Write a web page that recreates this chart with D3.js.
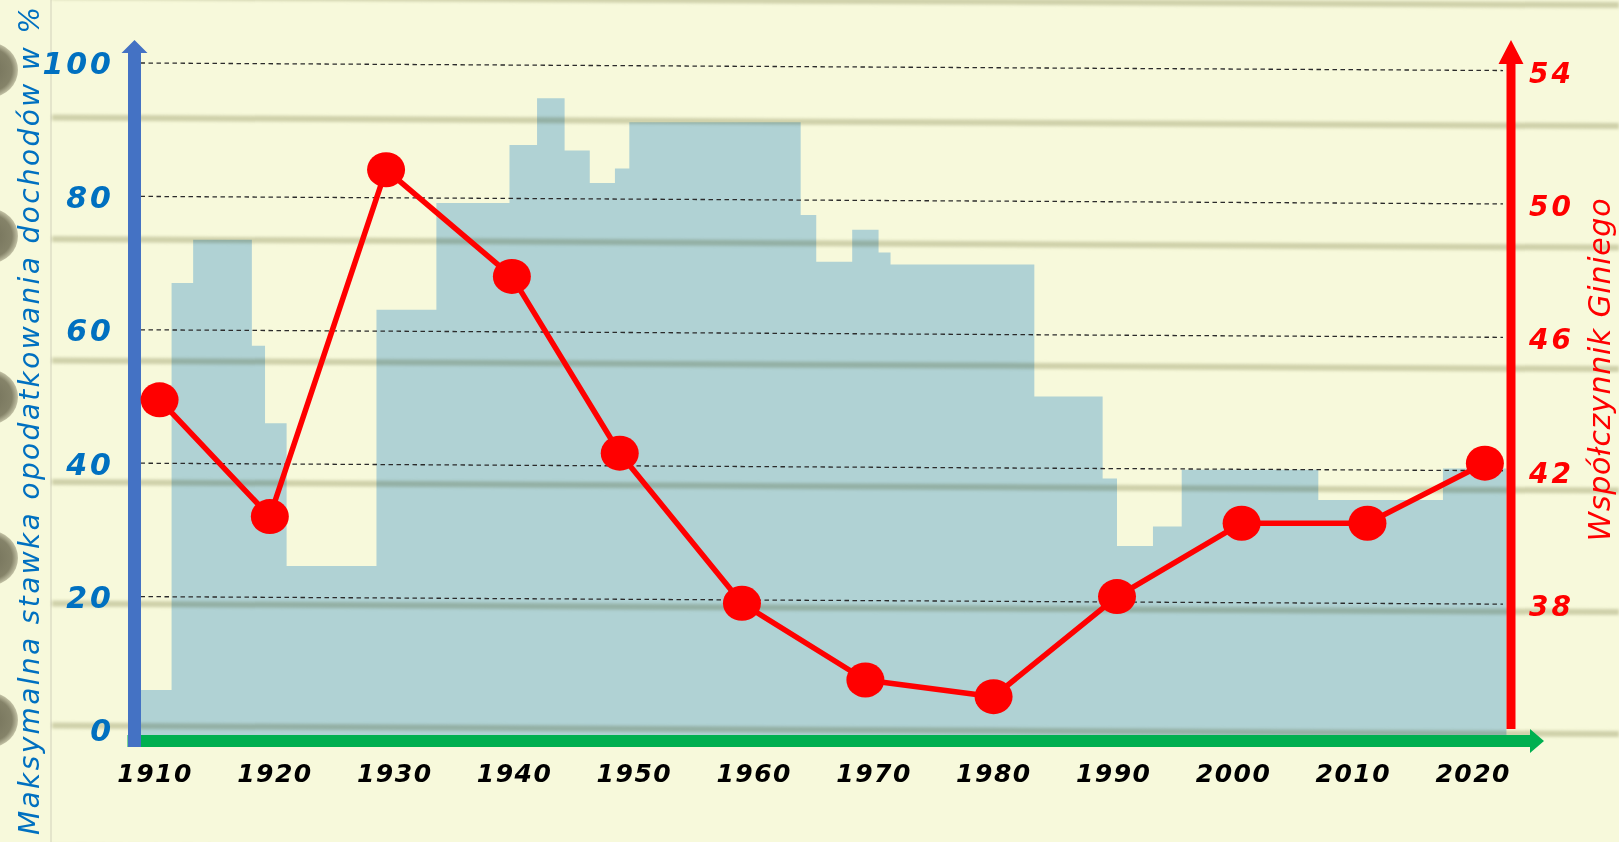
<!DOCTYPE html>
<html>
<head>
<meta charset="utf-8">
<script src="https://cdn.jsdelivr.net/npm/d3@7"></script>
<style>
  html, body { margin: 0; padding: 0; background: #f7f9db; overflow: hidden; }
  svg { display: block; }
  text { font-family: "DejaVu Sans", sans-serif; font-style: italic; }
</style>
</head>
<body>
<svg id="chart" width="1619" height="842"></svg>
<script>
// tick labels
const decadeTicks = [1910, 1920, 1930, 1940, 1950, 1960, 1970, 1980, 1990, 2000, 2010, 2020];
const rateTicks = [0, 20, 40, 60, 80, 100];
const giniTicks = [38, 42, 46, 50, 54];

// top income tax rate (%), each value holds from its year until the next one
const rateYears = [1908.4, 1911.5, 1913.3, 1918.2, 1919.3, 1921.1, 1928.6, 1933.6, 1939.7, 1942.0,
  1944.3, 1946.4, 1948.5, 1949.7, 1964.0, 1965.3, 1968.3, 1970.5, 1971.5, 1983.5,
  1989.2, 1990.4, 1993.4, 1995.8, 2007.2, 2017.6];
const rateValues = [6, 67, 73.5, 57.6, 46, 24.6, 63, 79, 87.7, 94.7,
  86.9, 82, 84.2, 91.1, 77.2, 70.2, 75, 71.6, 69.8, 50,
  37.7, 27.6, 30.5, 39, 34.5, 39.2];
const rateEnd = 2022.9;

// Gini coefficient
const giniYears = [1910.5, 1919.7, 1929.4, 1939.9, 1948.9, 1959.1, 1969.4, 1980.1, 1990.4, 2000.8, 2011.3, 2021.1];
const giniValues = [43.9, 40.4, 50.8, 47.6, 42.3, 37.8, 35.5, 35.0, 38.0, 40.2, 40.2, 42.0];

// notebook paper decoration
const ruleRows = [-3.5, 117.5, 239, 360.5, 482, 603.5, 725.5, 847];
const holeRows = [70, 236, 397, 558, 720];

const width = 1619;
const height = 842;

const x = d3.scaleLinear().domain([1910, 2020]).range([153.6, 1471.7]);
const y = d3.scaleLinear().domain([0, 100]).range([730, 63]);
const yGini = d3.scaleLinear().domain([34, 54]).range([730, 63]);

const leftAxisX = 134.5;
const rightAxisX = 1511;
const baseY = 741;
const tilt = 7.5 / 1363; // grid and paper lines slope slightly down to the right

const svg = d3.select('#chart');
const defs = svg.append('defs');

defs.append('filter').attr('id', 'soft')
  .attr('x', '-5%').attr('y', '-200%').attr('width', '110%').attr('height', '500%')
  .append('feGaussianBlur').attr('stdDeviation', 1.5);

const holeGrad = defs.append('radialGradient').attr('id', 'hole');
holeGrad.append('stop').attr('offset', '0%').attr('stop-color', '#74725a');
holeGrad.append('stop').attr('offset', '78%').attr('stop-color', '#858369');
holeGrad.append('stop').attr('offset', '100%').attr('stop-color', '#c4c3a6');

// paper
svg.append('rect').attr('width', width).attr('height', height).attr('fill', '#f7f9db');

svg.append('line')
  .attr('x1', 51).attr('x2', 51).attr('y1', 0).attr('y2', height)
  .attr('stroke', '#e4e5cb').attr('stroke-width', 2);

svg.selectAll('ellipse.hole')
  .data(holeRows)
  .join('ellipse')
  .attr('class', 'hole')
  .attr('cx', -9)
  .attr('cy', d => d)
  .attr('rx', 27)
  .attr('ry', 27)
  .attr('fill', 'url(#hole)');

// tax rate area
const area = d3.area()
  .curve(d3.curveStepAfter)
  .x(d => x(d[0]))
  .y0(baseY - 6)
  .y1(d => y(d[1]));

const ratePoints = rateYears.map((yr, i) => [yr, rateValues[i]]);
ratePoints.push([rateEnd, rateValues[rateValues.length - 1]]);

svg.append('path')
  .datum(ratePoints)
  .attr('d', area)
  .attr('fill', '#b0d2d4');

// ruled paper lines, blended over the area
svg.append('g')
  .attr('filter', 'url(#soft)')
  .style('mix-blend-mode', 'multiply')
  .selectAll('line')
  .data(ruleRows)
  .join('line')
  .attr('x1', 52)
  .attr('x2', width)
  .attr('y1', d => d)
  .attr('y2', d => d + (width - 52) * tilt)
  .attr('stroke', '#d6d6c6')
  .attr('stroke-width', 6);

// dashed grid
svg.append('g')
  .selectAll('line')
  .data(rateTicks.filter(d => d > 0))
  .join('line')
  .attr('x1', leftAxisX + 6)
  .attr('x2', rightAxisX - 8)
  .attr('y1', d => y(d))
  .attr('y2', d => y(d) + (rightAxisX - 8 - leftAxisX) * tilt)
  .attr('stroke', '#2b2b2b')
  .attr('stroke-width', 1.3)
  .attr('stroke-dasharray', '4.5,3.5');

// x axis arrow (green)
svg.append('path')
  .attr('d', `M${leftAxisX - 7},${baseY - 6} H1530 V${baseY - 12} L1544,${baseY} L1530,${baseY + 12} V${baseY + 6} H${leftAxisX - 7} Z`)
  .attr('fill', '#00b050');

// left axis arrow (blue)
svg.append('path')
  .attr('d', `M${leftAxisX - 6.5},${baseY + 6} V${y(100) - 10} H${leftAxisX - 13} L${leftAxisX},${y(100) - 23} L${leftAxisX + 13},${y(100) - 10} H${leftAxisX + 6.5} V${baseY + 6} Z`)
  .attr('fill', '#4472c4');

// right axis arrow (red)
svg.append('path')
  .attr('d', `M${rightAxisX - 4.5},${y(0) - 1} V${y(100) + 1} H${rightAxisX - 12.5} L${rightAxisX},${y(100) - 23} L${rightAxisX + 12.5},${y(100) + 1} H${rightAxisX + 4.5} V${y(0) - 1} Z`)
  .attr('fill', '#ff0000');

// axis labels
function clean(g) {
  g.select('.domain').remove();
  g.selectAll('.tick line').remove();
  g.attr('font-family', null).attr('font-size', null);
}

const leftAxis = svg.append('g')
  .attr('transform', 'translate(114,0)')
  .call(d3.axisLeft(y).tickValues(rateTicks).tickSize(0).tickPadding(0))
  .call(clean);
leftAxis.selectAll('text')
  .attr('x', 0).attr('dy', '0.36em')
  .attr('fill', '#0070c0')
  .attr('font-size', 30)
  .attr('font-weight', 'bold')
  .attr('letter-spacing', 3);

const rightAxis = svg.append('g')
  .attr('transform', 'translate(1529,9)')
  .call(d3.axisRight(yGini).tickValues(giniTicks).tickSize(0).tickPadding(0))
  .call(clean);
rightAxis.selectAll('text')
  .attr('x', 0).attr('dy', '0.36em')
  .attr('fill', '#ff0000')
  .attr('font-size', 28)
  .attr('font-weight', 'bold')
  .attr('letter-spacing', 3);

const bottomAxis = svg.append('g')
  .attr('transform', 'translate(0,773)')
  .call(d3.axisBottom(x).tickValues(decadeTicks).tickFormat(d3.format('d')).tickSize(0))
  .call(clean);
bottomAxis.selectAll('text')
  .attr('y', 0).attr('dy', '0.36em')
  .attr('dx', 1)
  .attr('fill', '#000')
  .attr('font-size', 25)
  .attr('font-weight', 'bold')
  .attr('letter-spacing', 1.5);

// axis titles
svg.append('text')
  .attr('transform', 'translate(39,421) rotate(-90)')
  .attr('text-anchor', 'middle')
  .attr('fill', '#0070c0')
  .attr('font-size', 28)
  .attr('textLength', 828)
  .attr('lengthAdjust', 'spacing')
  .text('Maksymalna stawka opodatkowania dochodów w %');

svg.append('text')
  .attr('transform', 'translate(1610,370) rotate(-90)')
  .attr('text-anchor', 'middle')
  .attr('fill', '#ff0000')
  .attr('font-size', 30)
  .attr('textLength', 343)
  .attr('lengthAdjust', 'spacing')
  .text('Współczynnik Giniego');

// Gini line
const giniPoints = giniYears.map((yr, i) => [yr, giniValues[i]]);

svg.append('path')
  .datum(giniPoints)
  .attr('d', d3.line().x(d => x(d[0])).y(d => yGini(d[1])))
  .attr('fill', 'none')
  .attr('stroke', '#ff0000')
  .attr('stroke-width', 5.5)
  .attr('stroke-linejoin', 'round');

svg.selectAll('ellipse.dot')
  .data(giniPoints)
  .join('ellipse')
  .attr('class', 'dot')
  .attr('cx', d => x(d[0]))
  .attr('cy', d => yGini(d[1]))
  .attr('rx', 19)
  .attr('ry', 17.5)
  .attr('fill', '#ff0000');
</script>
</body>
</html>
